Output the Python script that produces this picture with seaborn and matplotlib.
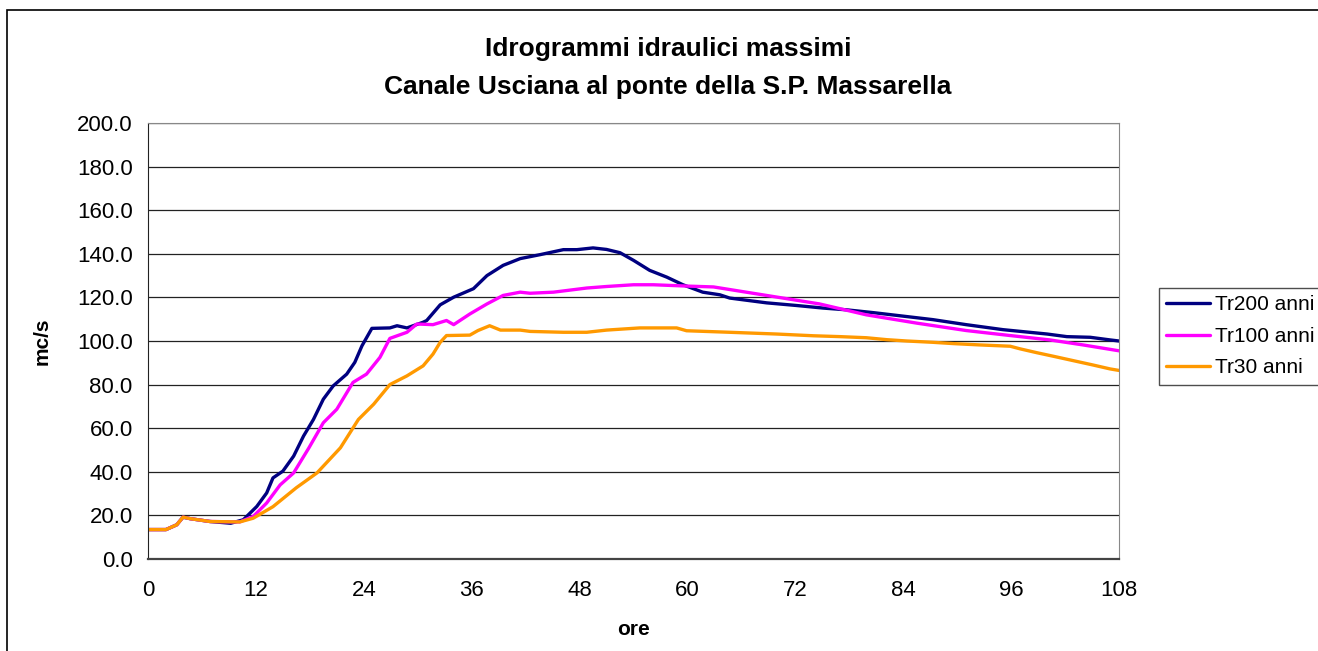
import pandas as pd
import matplotlib.pyplot as plt
import matplotlib.patches as mpatches
import matplotlib.ticker as mticker
import seaborn as sns

TITLE = "Idrogrammi idraulici massimi\nCanale Usciana al ponte della S.P. Massarella"
SERIES = ["Tr200 anni", "Tr100 anni", "Tr30 anni"]
COLORS = {"Tr200 anni": "#000080", "Tr100 anni": "#FF00FF", "Tr30 anni": "#FF9900"}

# values (ore, mc/s)
tr200_h = [0, 2, 3.2, 3.9, 4.7, 6.9, 9.2, 10.6, 12.1, 13.2, 13.9, 15, 16.2, 17.3, 18.4, 19.5,
           20.6, 22.1, 23, 23.8, 24.9, 26.9, 27.7, 28.8, 30.6, 31, 32.5, 34, 36.2, 37.7, 39.5,
           41.4, 43.6, 46.2, 47.7, 49.5, 51, 52.5, 54, 55.8, 57.7, 59.5, 61.7, 63.6, 64.7, 68.8,
           72.1, 75.1, 77.7, 80.7, 84, 87.3, 91, 95.1, 100, 102.2, 104.8, 107, 108]
tr200_q = [13.5, 13.5, 15.7, 19.2, 18.5, 17.2, 16.4, 18, 24.1, 30.3, 37.2, 40.3, 47.2, 56.4, 64, 73.3,
           79.4, 84.8, 90.2, 97.8, 105.8, 106, 107, 106, 108.6, 109.4, 116.6, 120.1, 124, 130, 134.7,
           137.8, 139.6, 141.9, 141.9, 142.7, 142, 140.5, 137, 132.4, 129.3, 125.8, 122.4, 121.2, 119.7, 117.5,
           116.3, 115.1, 114.3, 113, 111.4, 109.8, 107.5, 105.2, 103.2, 102, 101.7, 100.5, 100]

tr100_h = [0, 2, 3.2, 3.9, 4.7, 6.9, 10.2, 11.7, 13.2, 14.7, 16.2, 17.9, 19.5, 21, 22.8, 24.3,
           25.8, 26.9, 28.8, 29.9, 31.7, 33.2, 34, 35.8, 37.7, 39.5, 41.4, 42.5, 45.1, 48.8, 51,
           54, 56.2, 59.9, 62.9, 68.8, 74.7, 79.9, 85.5, 91, 95.9, 100.3, 104, 108]
tr100_q = [13.5, 13.5, 15.7, 19.2, 18.5, 17.2, 17, 19.5, 25.7, 34, 39.5, 51, 62.5, 68.7, 81, 84.8,
           92.5, 101.2, 104, 107.8, 107.5, 109.4, 107.5, 112.4, 117, 120.9, 122.4, 121.9, 122.4, 124.3, 125,
           125.8, 125.8, 125.2, 124.8, 120.9, 117, 112, 108.2, 104.8, 102.5, 100.5, 98.2, 95.5]

tr30_h = [0, 2, 3.2, 3.9, 4.7, 6.9, 10.2, 11.7, 13.9, 16.5, 18.8, 21.4, 23.4, 25.1, 26.9, 28.8,
          30.6, 31.7, 32.5, 33.2, 35.8, 36.7, 38, 39.2, 41.4, 42.5, 46.2, 48.8, 51, 54.7, 58.8,
          59.9, 64.7, 69.9, 74, 77, 79.9, 82.2, 84.4, 87.3, 89.6, 92.5, 95.9, 97, 98.9, 100.7,
          102.9, 105.1, 107, 108]
tr30_q = [13.5, 13.5, 15.7, 19.2, 18.5, 17.2, 17, 18.7, 24, 32.7, 39.5, 51, 64, 71, 80, 84,
          88.6, 94, 99.4, 102.5, 102.7, 104.8, 107, 105, 105, 104.4, 104, 104, 105, 106, 106,
          104.7, 104, 103.2, 102.4, 102, 101.5, 100.6, 100, 99.4, 98.8, 98.2, 97.6, 96.4, 94.6, 93,
          91, 89, 87.2, 86.5]

X_TICKS = list(range(0, 109, 12))
Y_TICKS = list(range(0, 201, 20))

df = pd.concat([
    pd.DataFrame({"ore": tr200_h, "mc/s": tr200_q, "serie": "Tr200 anni"}),
    pd.DataFrame({"ore": tr100_h, "mc/s": tr100_q, "serie": "Tr100 anni"}),
    pd.DataFrame({"ore": tr30_h, "mc/s": tr30_q, "serie": "Tr30 anni"}),
])

sns.set_style("white")
plt.rcParams["font.family"] = ["Liberation Sans", "DejaVu Sans"]
plt.rcParams.update({"text.color": "black", "axes.labelcolor": "black",
                     "xtick.color": "black", "ytick.color": "black"})

fig = plt.figure(figsize=(13.18, 6.51), dpi=100)
ax = fig.add_axes([148 / 1318, 1 - 559 / 651, (1119 - 148) / 1318, (559 - 123) / 651])

sns.lineplot(data=df, x="ore", y="mc/s", hue="serie", hue_order=SERIES, palette=COLORS,
             linewidth=2.4, ax=ax, sort=False, estimator=None, legend=True)

ax.set_xlim(0, 108)
ax.set_ylim(0, 200)
ax.set_xticks(X_TICKS)
ax.set_yticks(Y_TICKS)
ax.yaxis.set_major_formatter(mticker.FormatStrFormatter("%.1f"))
ax.tick_params(axis="both", which="major", labelsize=16, length=5, width=1, direction="out",
               color="#333333", labelcolor="black", pad=6)
ax.tick_params(axis="x", pad=10)
ax.grid(axis="y", color="#222222", linewidth=0.9)
ax.set_axisbelow(True)

ax.spines["left"].set_color("#222222")
ax.spines["bottom"].set_color("#444444")
ax.spines["bottom"].set_linewidth(1.6)
ax.spines["top"].set_color("#888888")
ax.spines["right"].set_color("#888888")

ax.set_xlabel("ore", fontsize=15, fontweight="bold", labelpad=14, color="black")
ax.set_ylabel("mc/s", fontsize=15, fontweight="bold", labelpad=18, color="black")
fig.text(668 / 1318, 1 - 68 / 651, TITLE, ha="center", va="center", fontsize=19,
         fontweight="bold", linespacing=1.69, color="black")

handles, labels = ax.get_legend_handles_labels()
leg = ax.legend(handles, labels, loc="upper left", bbox_to_anchor=(1159 / 1318, 1 - 288 / 651),
                bbox_transform=fig.transFigure, frameon=True, fancybox=False, edgecolor="#222222",
                fontsize=15, handlelength=2.1, handletextpad=0.25, labelspacing=0.6,
                borderpad=0.35, borderaxespad=0, labelcolor="black")
leg.get_frame().set_linewidth(1)

# outer chart border (cut at the right and bottom edges as in the reference)
fig.patches.append(mpatches.Rectangle((7 / 1318, -0.05), 1.1, 1 - 10 / 651 + 0.05,
                                      transform=fig.transFigure, fill=False,
                                      edgecolor="black", linewidth=1.2))

plt.savefig("out.png", dpi=100)
plt.close()
print("Saved: out.png")
